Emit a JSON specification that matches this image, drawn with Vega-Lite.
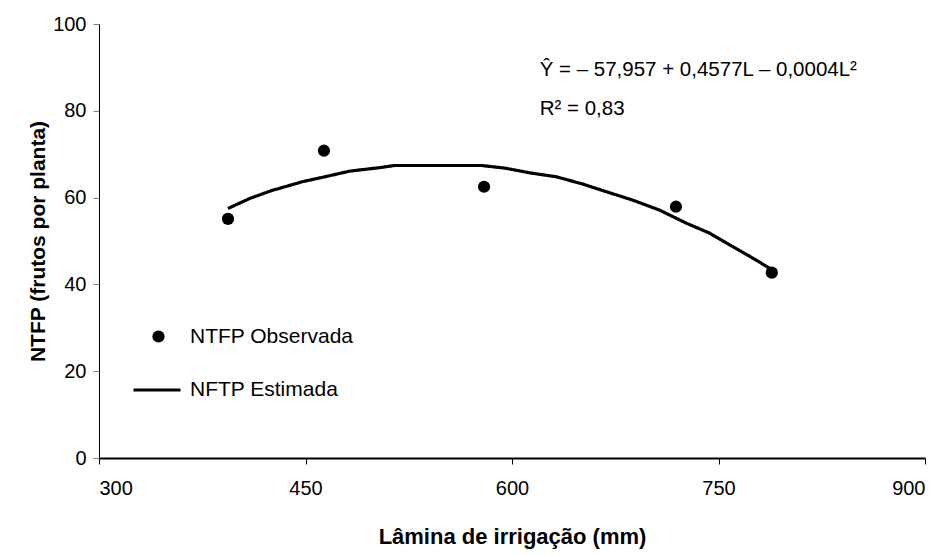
{
  "$schema": "https://vega.github.io/schema/vega-lite/v6.json",
  "width": 826,
  "height": 434,
  "autosize": {"type": "none"},
  "padding": {"left": 99, "top": 24, "right": 20, "bottom": 98},
  "background": "white",
  "config": {
    "view": {"stroke": null},
    "font": "Liberation Sans",
    "axis": {"grid": false, "labelFont": "Liberation Sans", "titleFont": "Liberation Sans", "labelColor": "black", "titleColor": "black"}
  },
  "datasets": {
    "obs": [
      {"L": 393.7, "y": 55.1, "serie": "NTFP Observada"},
      {"L": 463.4, "y": 70.8, "serie": "NTFP Observada"},
      {"L": 579.7, "y": 62.5, "serie": "NTFP Observada"},
      {"L": 719.1, "y": 57.9, "serie": "NTFP Observada"},
      {"L": 788.7, "y": 42.7, "serie": "NTFP Observada"}
    ],
    "est": [
      {"L": 393.7, "y": 57.5, "serie": "NFTP Estimada"},
      {"L": 409.5, "y": 59.8, "serie": "NFTP Estimada"},
      {"L": 425.2, "y": 61.6, "serie": "NFTP Estimada"},
      {"L": 448.2, "y": 63.7, "serie": "NFTP Estimada"},
      {"L": 462.7, "y": 64.7, "serie": "NFTP Estimada"},
      {"L": 482.1, "y": 66.1, "serie": "NFTP Estimada"},
      {"L": 503.9, "y": 66.9, "serie": "NFTP Estimada"},
      {"L": 514.8, "y": 67.4, "serie": "NFTP Estimada"},
      {"L": 577.8, "y": 67.4, "serie": "NFTP Estimada"},
      {"L": 594.7, "y": 66.8, "serie": "NFTP Estimada"},
      {"L": 612.9, "y": 65.7, "serie": "NFTP Estimada"},
      {"L": 632.2, "y": 64.8, "serie": "NFTP Estimada"},
      {"L": 651.6, "y": 63.1, "serie": "NFTP Estimada"},
      {"L": 666.1, "y": 61.6, "serie": "NFTP Estimada"},
      {"L": 687.9, "y": 59.4, "serie": "NFTP Estimada"},
      {"L": 707.3, "y": 57.1, "serie": "NFTP Estimada"},
      {"L": 726.7, "y": 54.1, "serie": "NFTP Estimada"},
      {"L": 743.6, "y": 51.8, "serie": "NFTP Estimada"},
      {"L": 758.1, "y": 49.1, "serie": "NFTP Estimada"},
      {"L": 772.6, "y": 46.5, "serie": "NFTP Estimada"},
      {"L": 787.2, "y": 43.7, "serie": "NFTP Estimada"}
    ],
    "notes": [
      {"texto": "Ŷ = – 57,957 + 0,4577L – 0,0004L²", "linha": 1},
      {"texto": "R² = 0,83", "linha": 2}
    ]
  },
  "layer": [
    {
      "mark": {"type": "rule", "color": "#808080", "strokeWidth": 1},
      "encoding": {"y": {"datum": 100, "type": "quantitative", "scale": {"domain": [0, 100]}}}
    },
    {
      "mark": {"type": "rule", "color": "black", "strokeWidth": 1},
      "encoding": {"x": {"datum": 900, "type": "quantitative", "scale": {"domain": [300, 900]}}}
    },
    {
      "data": {"name": "est"},
      "mark": {"type": "line", "strokeWidth": 3.2, "interpolate": "linear", "color": "black"},
      "encoding": {
        "x": {"field": "L", "type": "quantitative"},
        "y": {"field": "y", "type": "quantitative"},
        "strokeDash": {
          "field": "serie", "type": "nominal",
          "scale": {"domain": ["NFTP Estimada"], "range": [[1, 0]]},
          "legend": {
            "orient": "none", "legendX": 33, "legendY": 341, "title": null,
            "padding": 0, "labelOffset": 8, "labelLimit": 300,
            "symbolType": "stroke", "symbolSize": 2209, "symbolStrokeWidth": 3, "symbolStrokeColor": "black",
            "labelFont": "Liberation Sans", "labelFontSize": 21, "labelColor": "black"
          }
        }
      }
    },
    {
      "data": {"name": "obs"},
      "mark": {"type": "point", "filled": true, "size": 150, "opacity": 1, "shape": "circle"},
      "encoding": {
        "x": {
          "field": "L", "type": "quantitative",
          "scale": {"domain": [300, 900], "nice": false, "zero": false},
          "axis": {
            "values": [300, 450, 600, 750, 900],
            "title": "Lâmina de irrigação (mm)",
            "titleFontSize": 22, "titleFontWeight": "bold", "titlePadding": 28,
            "labelFontSize": 20, "labelPadding": 14,
            "domainColor": "black", "domainWidth": 2,
            "tickColor": "black", "tickSize": 6, "tickWidth": 1
          }
        },
        "y": {
          "field": "y", "type": "quantitative",
          "scale": {"domain": [0, 100], "nice": false},
          "axis": {
            "values": [0, 20, 40, 60, 80, 100],
            "title": "NTFP (frutos por planta)",
            "titleFontSize": 21, "titleFontWeight": "bold", "titlePadding": 4,
            "labelFontSize": 20, "labelPadding": 7,
            "domainColor": "black", "domainWidth": 1,
            "tickColor": "#808080", "tickSize": 6, "tickWidth": 1
          }
        },
        "color": {
          "field": "serie", "type": "nominal",
          "scale": {"domain": ["NTFP Observada"], "range": ["black"]},
          "legend": {
            "orient": "none", "legendX": 49, "legendY": 302, "title": null,
            "padding": 0, "labelOffset": 21, "labelLimit": 300,
            "symbolType": "circle", "symbolSize": 150, "symbolFillColor": "black", "symbolStrokeWidth": 0,
            "symbolOpacity": 1,
            "labelFont": "Liberation Sans", "labelFontSize": 21, "labelColor": "black"
          }
        }
      }
    },
    {
      "data": {"name": "notes"},
      "transform": [{"filter": "datum.linha === 1"}],
      "mark": {"type": "text", "align": "left", "baseline": "alphabetic", "fontSize": 20.5, "font": "Liberation Sans", "color": "black"},
      "encoding": {
        "x": {"datum": 620.1, "type": "quantitative"},
        "y": {"datum": 88.0, "type": "quantitative"},
        "text": {"field": "texto"}
      }
    },
    {
      "data": {"name": "notes"},
      "transform": [{"filter": "datum.linha === 2"}],
      "mark": {"type": "text", "align": "left", "baseline": "alphabetic", "fontSize": 20.5, "font": "Liberation Sans", "color": "black"},
      "encoding": {
        "x": {"datum": 620.1, "type": "quantitative"},
        "y": {"datum": 79.0, "type": "quantitative"},
        "text": {"field": "texto"}
      }
    }
  ]
}
